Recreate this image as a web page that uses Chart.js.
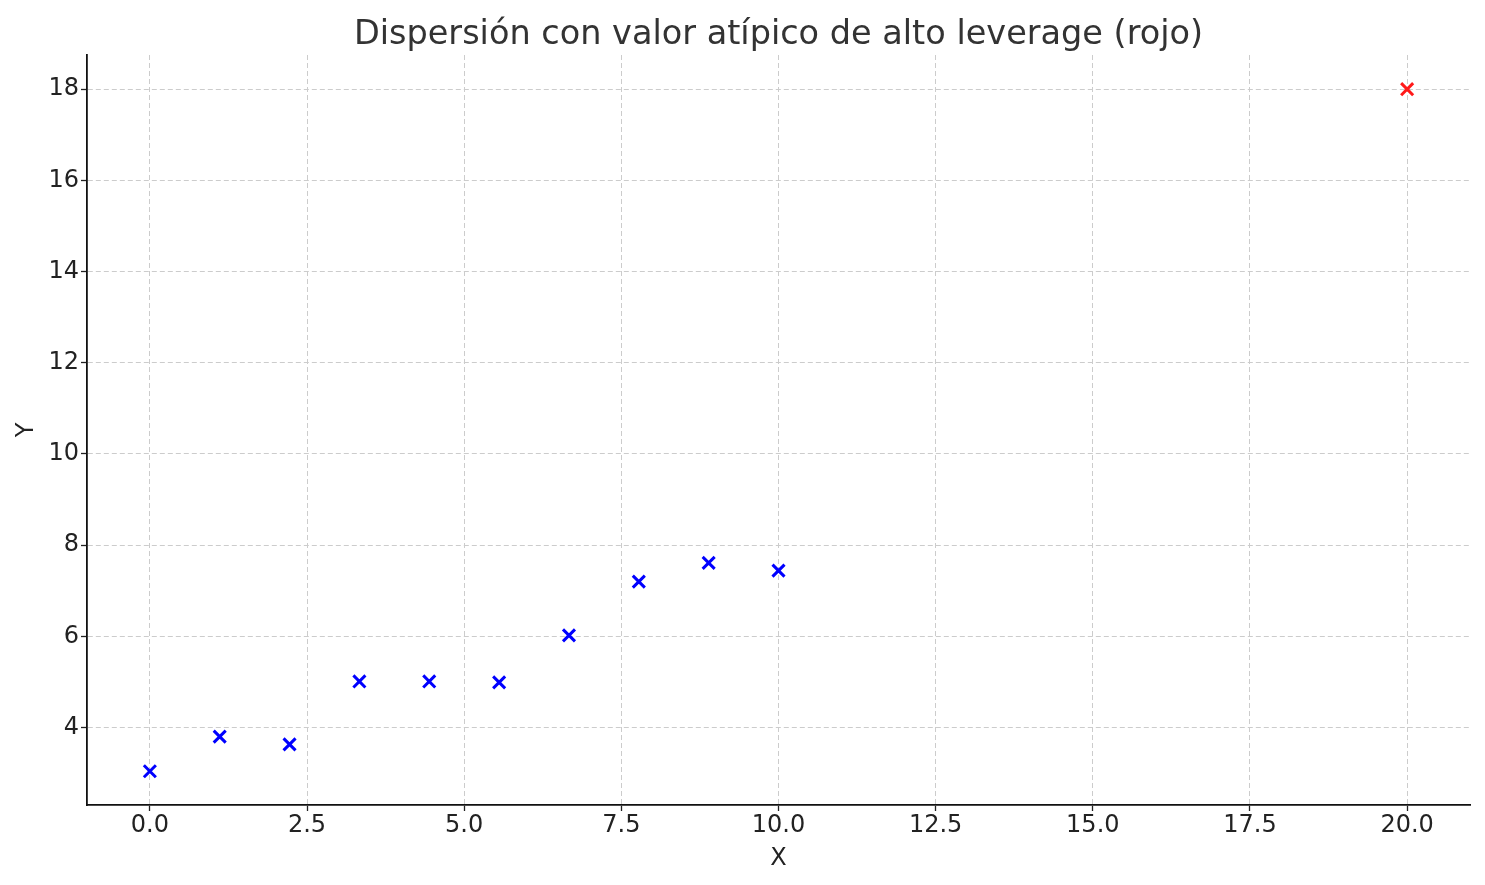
<!DOCTYPE html>
<html>
<head>
<meta charset="utf-8">
<script src="https://cdn.jsdelivr.net/npm/chart.js@4"></script>
<style>
  html, body { margin: 0; padding: 0; background: #ffffff; }
  #wrap { width: 1485px; height: 885px; }
</style>
</head>
<body>
<div id="wrap"><canvas id="scatter" width="1485" height="885"></canvas></div>
<script>
// data
const xValues = [0, 1.111, 2.222, 3.333, 4.444, 5.556, 6.667, 7.778, 8.889, 10];
const yValues = [3.04, 3.80, 3.63, 5.01, 5.01, 4.99, 6.02, 7.20, 7.61, 7.44];
const outlierX = [20];
const outlierY = [18];
const xTicks = [0, 2.5, 5, 7.5, 10, 12.5, 15, 17.5, 20];
const yTicks = [4, 6, 8, 10, 12, 14, 16, 18];
const chartTitle = 'Dispersión con valor atípico de alto leverage (rojo)';

const font = "'DejaVu Sans', 'Liberation Sans', sans-serif";

let toPoints = function(xs, ys) {
  return xs.map((x, i) => ({ x: x, y: ys[i] }));
}

let fixTicks = function(values) {
  return function(scale) {
    scale.ticks = values.map((v) => ({ value: v }));
  }
}

// title centred over the plot area, like matplotlib does
const axesTitle = {
  id: 'axesTitle',
  afterDraw(chart) {
    const {ctx, chartArea} = chart;
    ctx.save();
    ctx.font = `normal 33.5px ${font}`;
    ctx.fillStyle = '#333333';
    ctx.textAlign = 'center';
    ctx.textBaseline = 'alphabetic';
    ctx.fillText(chartTitle, (chartArea.left + chartArea.right) / 2, 44);
    ctx.restore();
  }
};

const gridStyle = {
  color: '#cccccc',
  lineWidth: 1,
  drawTicks: true,
  tickLength: 6,
  tickColor: '#222222',
  tickWidth: 1.3,
  tickBorderDash: []
};

const config = {
  type: 'scatter',
  data: {
    datasets: [{
      label: 'datos',
      data: toPoints(xValues, yValues),
      pointStyle: 'crossRot',
      pointRadius: 8.5,
      pointBorderWidth: 3,
      borderColor: '#0000ff',
      backgroundColor: '#0000ff'
    },
    {
      label: 'atípico',
      data: toPoints(outlierX, outlierY),
      pointStyle: 'crossRot',
      pointRadius: 8.5,
      pointBorderWidth: 3,
      borderColor: '#ff1a1a',
      backgroundColor: '#ff1a1a'
    }]
  },
  options: {
    responsive: false,
    animation: false,
    layout: { padding: { left: 0, right: 15, top: 55, bottom: 0 } },
    plugins: {
      legend: { display: false },
      tooltip: { enabled: false },
      title: { display: false }
    },
    scales: {
      x: {
        type: 'linear',
        min: -1,
        max: 21,
        afterBuildTicks: fixTicks(xTicks),
        afterFit: (scale) => { scale.height = 80; },
        grid: gridStyle,
        border: { display: true, color: '#111111', width: 1.8, dash: [5, 3] },
        ticks: {
          color: '#222222',
          padding: 0,
          font: { family: font, size: 24 },
          callback: (v) => v.toFixed(1)
        },
        title: {
          display: true,
          text: 'X',
          color: '#222222',
          font: { family: font, size: 24, lineHeight: 1.2 },
          padding: { top: 0, bottom: 12 }
        }
      },
      y: {
        type: 'linear',
        min: 2.3,
        max: 18.75,
        afterBuildTicks: fixTicks(yTicks),
        afterFit: (scale) => { scale.width = 87; },
        grid: gridStyle,
        border: { display: true, color: '#111111', width: 1.8, dash: [5, 3] },
        ticks: {
          color: '#222222',
          padding: 2,
          font: { family: font, size: 24 },
          callback: (v) => v.toString()
        },
        title: {
          display: true,
          text: 'Y',
          color: '#222222',
          font: { family: font, size: 24, lineHeight: 1.2 },
          padding: { top: 12, bottom: 0 }
        }
      }
    }
  },
  plugins: [axesTitle]
};

new Chart(document.getElementById('scatter'), config);
</script>
</body>
</html>
